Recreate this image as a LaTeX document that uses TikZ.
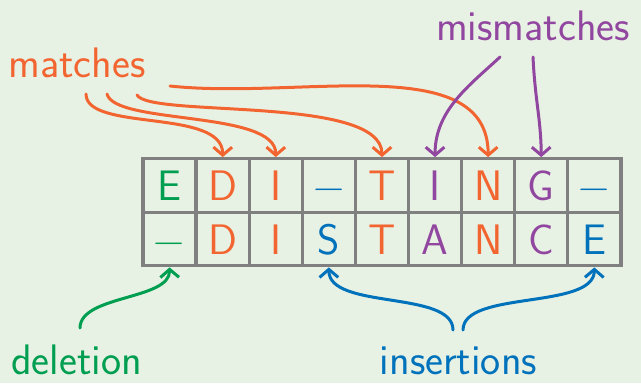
\documentclass[tikz,border=0pt]{standalone}
\usepackage{fontspec}
\setsansfont{lmsans17-regular.otf}
\usepackage{xcolor}
\usepackage{tikz}
\usetikzlibrary{arrows.meta}
\definecolor{bggreen}{RGB}{232,242,228}
\definecolor{gridgray}{RGB}{128,128,128}
\definecolor{matchorange}{RGB}{242,101,49}
\definecolor{mispurple}{RGB}{145,70,160}
\definecolor{insblue}{RGB}{0,114,188}
\definecolor{delgreen}{RGB}{0,158,80}

\begin{document}
\begin{tikzpicture}[x=0.75pt, y=0.75pt,
    every node/.style={font=\sffamily\fontsize{32}{38}\selectfont},
    cell/.style={draw=gridgray, line width=2.5pt, minimum width=39.8pt, minimum height=40.1pt, inner sep=0pt, text height=23pt, text depth=0pt},
    label/.style={anchor=base, inner sep=0pt},
    link/.style={line width=2.25pt, line cap=round, -{Straight Barb[length=6pt, width=14pt]}}]
    % Background
    \fill[bggreen] (0,0) rectangle (641,-383);
    \useasboundingbox (0,0) rectangle (641,-383);

    % Top row: EDI-TING-
    \foreach \ch/\col [count=\i] in {E/delgreen, D/matchorange, I/matchorange, −/insblue, T/matchorange, I/mispurple, N/matchorange, G/mispurple, −/insblue}
        \node[cell, text=\col] (t\i) at ({143+53.1*(\i-0.5)}, -185.5) {\ch};
    % Bottom row: -DISTANCE
    \foreach \ch/\col [count=\i] in {−/delgreen, D/matchorange, I/matchorange, S/insblue, T/matchorange, A/mispurple, N/matchorange, C/mispurple, E/insblue}
        \node[cell, text=\col] (b\i) at ({143+53.1*(\i-0.5)}, -239) {\ch};

    % Labels
    \node[label, text=matchorange] (matches) at (77,-77) {matches};
    \node[label, text=mispurple] (mismatches) at (533,-40) {mismatches};
    \node[label, text=delgreen] (deletion) at (76.5,-374) {deletion};
    \node[label, text=insblue] (insertions) at (458.5,-374) {insertions};

    % Arrow start points
    \coordinate (m1) at (86,-94);
    \coordinate (m2) at (107,-94);
    \coordinate (m3) at (137,-95);
    \coordinate (m4) at (170,-86);
    \coordinate (mm1) at (500,-57);
    \coordinate (mm2) at (533,-57);
    \coordinate (d1) at (80,-328);
    \coordinate (i1) at (453,-330);
    \coordinate (i2) at (463,-330);

    % Matches
    \draw[link, matchorange] (m1) .. controls (86,-132) and (223,-108) .. (t2.north);
    \draw[link, matchorange] (m2) .. controls (115,-125) and (276,-110) .. (t3.north);
    \draw[link, matchorange] (m3) .. controls (150,-118) and (382,-95) .. (t5.north);
    \draw[link, matchorange] (m4) .. controls (300,-100) and (488,-50) .. (t7.north);
    % Mismatches
    \draw[link, mispurple] (mm1) .. controls (470,-85) and (435,-110) .. (t6.north);
    \draw[link, mispurple] (mm2) .. controls (535,-100) and (541,-120) .. (t8.north);
    % Deletion and insertions
    \draw[link, delgreen] (d1) .. controls (80,-295) and (170,-300) .. (b1.south);
    \draw[link, insblue] (i1) .. controls (453,-290) and (329,-310) .. (b4.south);
    \draw[link, insblue] (i2) .. controls (463,-290) and (594,-310) .. (b9.south);
\end{tikzpicture}
\end{document}
